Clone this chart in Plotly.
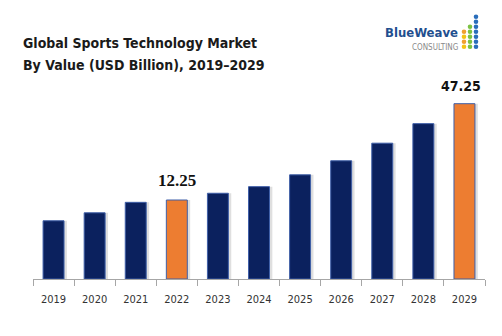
import plotly.graph_objects as go

years = ["2019", "2020", "2021", "2022", "2023", "2024", "2025", "2026", "2027", "2028", "2029"]
values = [4.7, 7.6, 11.4, 12.25, 14.7, 17.1, 21.4, 26.5, 32.9, 40.0, 47.25]
highlight = ["2022", "2029"]
label_years = ["2022", "2029"]
label_texts = ["12.25", "47.25"]

AXIS_FLOOR = -16.46
AXIS_TOP = 55.86

NAVY = "#0b215e"
ORANGE = "#ed7d31"
colors = [ORANGE if y in highlight else NAVY for y in years]

W, H = 502, 336
ML, MR, MT, MB = 33, 17, 80, 57
PW = W - ML - MR
PH = H - MT - MB


def px_x(p):
    return (p - ML) / PW


def px_y(p):
    return (H - MB - p) / PH


lengths = [v - AXIS_FLOOR for v in values]

fig = go.Figure()
# soft drop shadow
fig.add_trace(go.Bar(
    x=years, y=lengths, base=AXIS_FLOOR, width=0.51, offset=-0.255 + 0.07,
    marker=dict(color="rgba(110,110,110,0.22)", line=dict(width=0)),
    hoverinfo="skip", showlegend=False,
))
fig.add_trace(go.Bar(
    x=years, y=lengths, base=AXIS_FLOOR, width=0.51, offset=-0.255,
    marker=dict(color=colors, line=dict(color="#3f5fa8", width=1)),
    showlegend=False,
))

annotations = []
label_fonts = [dict(family="Liberation Serif", size=17, color="#111111"),
               dict(family="DejaVu Sans Condensed", size=14, color="#111111")]
label_shift = [0, -3]
for yr, txt, f, xs in zip(label_years, label_texts, label_fonts, label_shift):
    i = years.index(yr)
    annotations.append(dict(x=i, y=values[i], xref="x", yref="y", text="<b>%s</b>" % txt,
                            showarrow=False, yanchor="bottom", yshift=8, xshift=xs, font=f))

title_font = dict(family="DejaVu Sans Condensed", size=14, color="#1a1a1a")
annotations.append(dict(x=px_x(21), y=px_y(43), xref="paper", yref="paper", xanchor="left",
                        yanchor="middle", showarrow=False,
                        text="<b>Global Sports Technology Market</b>", font=title_font))
annotations.append(dict(x=px_x(21), y=px_y(64.5), xref="paper", yref="paper", xanchor="left",
                        yanchor="middle", showarrow=False,
                        text="<b>By Value (USD Billion), 2019\u20132029</b>", font=title_font))
# logo text
annotations.append(dict(x=px_x(459.5), y=px_y(32), xref="paper", yref="paper", xanchor="right",
                        yanchor="middle", showarrow=False, text="<b>BlueWeave</b>",
                        font=dict(family="DejaVu Sans Condensed", size=13, color="#1f4f8f")))
annotations.append(dict(x=px_x(459.5), y=px_y(47.5), xref="paper", yref="paper", xanchor="right",
                        yanchor="middle", showarrow=False, text="CONSULTING",
                        font=dict(family="DejaVu Sans Condensed", size=8, color="#8a8a8a")))

shapes = []
dot_cols = [
    (464, [31.7, 36.7, 41.7, 46.7], ["#f0a030", "#f3c316", "#f0a030", "#f3c316"]),
    (470, [26.7, 31.7, 36.7, 41.7, 46.7], ["#7cc242"] * 5),
    (476, [16.7, 21.7, 26.7, 31.7, 36.7, 41.7, 46.7], ["#2a6ebb"] * 7),
]
r = 2.3
for cx, ys, cs in dot_cols:
    for cy, c in zip(ys, cs):
        shapes.append(dict(type="circle", xref="paper", yref="paper",
                           x0=px_x(cx - r), x1=px_x(cx + r), y0=px_y(cy + r), y1=px_y(cy - r),
                           fillcolor=c, line=dict(width=0)))

fig.update_layout(
    width=W, height=H, margin=dict(l=ML, r=MR, t=MT, b=MB),
    paper_bgcolor="white", plot_bgcolor="white",
    barmode="overlay", bargap=0.49,
    xaxis=dict(type="category", categoryorder="array", categoryarray=years,
               range=[-0.5, len(years) - 0.5], tickson="boundaries", ticks="outside", ticklen=6,
               tickcolor="#a6a6a6", showline=True, linecolor="#a6a6a6", linewidth=1,
               showgrid=False, ticklabelstandoff=10,
               tickfont=dict(family="DejaVu Sans Condensed", size=11, color="#333333")),
    yaxis=dict(visible=False, range=[AXIS_FLOOR, AXIS_TOP], showgrid=False, zeroline=False),
    annotations=annotations, shapes=shapes,
)

fig.write_html("out.html")
